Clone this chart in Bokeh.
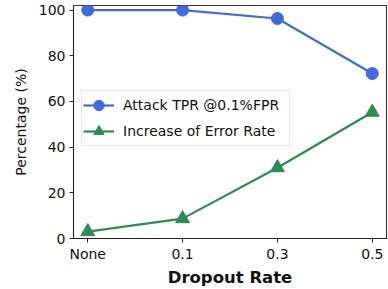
from bokeh.plotting import figure
from bokeh.models import Range1d, FixedTicker, Legend, LegendItem
from bokeh.embed import file_html
from bokeh.resources import INLINE

categories = ["None", "0.1", "0.3", "0.5"]
attack_tpr = [100, 100, 96.3, 72.2]
error_increase = [3.0, 8.7, 31.0, 55.3]
y_ticks = [0, 20, 40, 60, 80, 100]

xs = list(range(len(categories)))
FONT = "DejaVu Sans"
BLUE = "#4169E1"
GREEN = "#2E8B57"

p = figure(frame_width=313, frame_height=233, output_backend="svg", toolbar_location=None,
           x_range=Range1d(-0.15, 3.15), y_range=Range1d(0, 102),
           min_border_left=73, min_border_right=2, min_border_top=5, min_border_bottom=40)

l1 = p.line(xs, attack_tpr, line_color=BLUE, line_width=2.2)
s1 = p.scatter(xs, attack_tpr, marker="circle", size=12, fill_color=BLUE, line_color=BLUE)
l2 = p.line(xs, error_increase, line_color=GREEN, line_width=2.2)
s2 = p.scatter(xs, error_increase, marker="triangle", size=14, fill_color=GREEN, line_color=GREEN)

p.grid.visible = False
p.outline_line_color = "#333333"
p.outline_line_width = 1.1

p.xaxis.ticker = FixedTicker(ticks=xs)
p.xaxis.major_label_overrides = {i: c for i, c in enumerate(categories)}
p.yaxis.ticker = FixedTicker(ticks=y_ticks)

for ax in (p.xaxis[0], p.yaxis[0]):
    ax.minor_tick_line_color = None
    ax.major_tick_out = 4
    ax.major_tick_in = 0
    ax.axis_line_color = "#222222"
    ax.major_tick_line_color = "#222222"
    ax.major_label_text_font = FONT
    ax.major_label_text_font_size = "14px"
    ax.major_label_text_color = "#111111"
    ax.axis_label_text_font = FONT
    ax.axis_label_text_color = "#111111"

p.yaxis.major_label_standoff = 4
p.xaxis.major_label_standoff = 3
p.yaxis.axis_label = "Percentage (%)"
p.yaxis.axis_label_text_font_style = "normal"
p.yaxis.axis_label_text_font_size = "14px"
p.yaxis.axis_label_standoff = 7

p.xaxis.axis_label = "Dropout Rate"
p.xaxis.axis_label_text_font_style = "bold"
p.xaxis.axis_label_text_font_size = "16.5px"
p.xaxis.axis_label_standoff = 3

legend = Legend(items=[
    LegendItem(label="Attack TPR @0.1%FPR", renderers=[l1, s1]),
    LegendItem(label="Increase of Error Rate", renderers=[l2, s2]),
], location=(8, 92))
legend.label_text_font = FONT
legend.label_text_font_size = "14px"
legend.label_text_color = "#111111"
legend.glyph_width = 31
legend.glyph_height = 26
legend.label_height = 26
legend.label_width = 165
legend.spacing = -5
legend.padding = 1
legend.margin = 0
legend.label_standoff = 9
legend.border_line_color = "#cccccc"
legend.background_fill_alpha = 0.8
p.add_layout(legend, "center")

open("out.html", "w").write(file_html(p, INLINE))
